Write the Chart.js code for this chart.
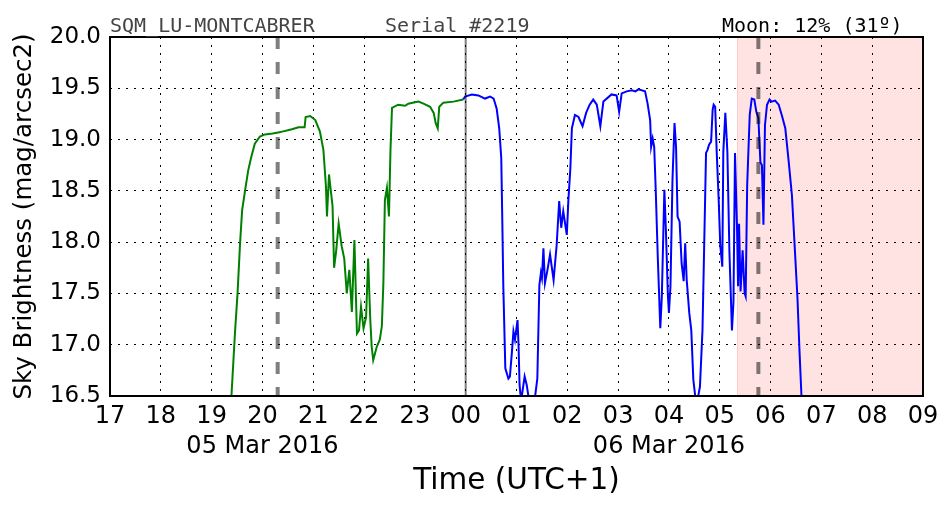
<!DOCTYPE html>
<html>
<head>
<meta charset="utf-8">
<script src="https://cdn.jsdelivr.net/npm/chart.js@4"></script>
<style>
  body { margin: 0; background: #fff; }
  canvas { display: block; }
</style>
</head>
<body>
<canvas id="myChart" width="952" height="512"></canvas>
<script>
// hours counted from 17:00 on 05 Mar 2016
const hourLabels = ['17','18','19','20','21','22','23','00','01','02','03','04','05','06','07','08','09'];
const dateLabels = ['','','','05 Mar 2016','','','','','','','','06 Mar 2016','','','','',''];

const greenTimes = [2.30,2.39,2.46,2.51,2.56,2.60,2.66,2.72,2.78,2.85,2.95,3.05,3.20,3.31,3.41,3.50,3.58,3.71,3.83,3.85,3.94,4.04,4.13,4.20,4.25,4.27,4.31,4.38,4.41,4.45,4.50,4.56,4.61,4.66,4.71,4.76,4.81,4.86,4.90,4.94,4.99,5.04,5.08,5.12,5.15,5.18,5.25,5.31,5.35,5.38,5.41,5.45,5.49,5.52,5.55,5.67,5.81,5.87,6.07,6.17,6.30,6.37,6.41,6.45,6.48,6.56,6.76,6.95];
const greenValues = [15.9,16.5,17.12,17.50,17.99,18.31,18.51,18.70,18.83,18.96,19.03,19.05,19.06,19.07,19.08,19.09,19.10,19.12,19.12,19.22,19.23,19.19,19.08,18.90,18.54,18.25,18.66,18.35,17.75,17.91,18.18,17.96,17.84,17.50,17.73,17.32,18.02,17.11,17.14,17.37,17.16,17.27,17.84,17.27,16.98,16.85,16.98,17.05,17.18,17.60,18.41,18.53,18.25,18.90,19.31,19.34,19.33,19.35,19.37,19.35,19.32,19.26,19.16,19.11,19.32,19.36,19.37,19.39];

const blueTimes = [6.95,6.99,7.12,7.25,7.38,7.48,7.55,7.61,7.66,7.70,7.72,7.74,7.78,7.84,7.87,7.91,7.94,7.97,8.02,8.04,8.06,8.09,8.16,8.20,8.25,8.31,8.37,8.41,8.45,8.48,8.50,8.53,8.56,8.61,8.66,8.73,8.79,8.84,8.88,8.92,8.99,9.02,9.06,9.09,9.15,9.22,9.30,9.37,9.44,9.51,9.58,9.65,9.71,9.87,9.97,10.02,10.07,10.17,10.27,10.34,10.40,10.53,10.58,10.63,10.65,10.68,10.71,10.74,10.78,10.83,10.86,10.91,10.94,10.98,11.00,11.03,11.07,11.11,11.14,11.17,11.21,11.25,11.29,11.32,11.35,11.40,11.44,11.48,11.54,11.61,11.66,11.70,11.73,11.76,11.79,11.83,11.86,11.88,11.91,11.94,11.98,12.01,12.05,12.07,12.11,12.15,12.19,12.24,12.27,12.30,12.34,12.36,12.38,12.41,12.45,12.49,12.51,12.54,12.59,12.63,12.68,12.72,12.76,12.80,12.83,12.86,12.89,12.93,12.98,13.02,13.09,13.16,13.22,13.29,13.35,13.42,13.48,13.53,13.57,13.61,13.68];
const blueValues = [19.39,19.42,19.44,19.43,19.40,19.42,19.40,19.30,19.11,18.82,18.23,17.58,16.77,16.67,16.69,16.93,17.13,17.05,17.24,17.00,16.61,16.45,16.69,16.61,16.45,16.2,16.51,16.67,17.58,17.70,17.65,17.94,17.60,17.73,17.88,17.63,17.97,18.40,18.14,18.30,18.07,18.40,18.72,19.11,19.24,19.22,19.13,19.26,19.34,19.39,19.34,19.13,19.37,19.44,19.43,19.27,19.45,19.47,19.48,19.47,19.49,19.47,19.35,19.19,18.93,19.01,18.93,18.51,17.86,17.16,17.47,18.51,18.12,17.47,17.31,17.57,18.61,19.16,18.93,18.25,18.20,17.79,17.62,17.99,17.63,17.31,17.14,16.66,16.40,16.59,17.14,18.12,18.87,18.90,18.95,18.98,19.29,19.34,19.32,18.88,18.40,17.97,17.76,18.88,19.26,18.88,17.91,17.14,17.42,18.87,18.14,17.57,18.18,17.52,17.92,17.50,17.47,18.56,19.24,19.40,19.39,19.27,19.21,18.78,18.75,18.17,19.14,19.34,19.39,19.37,19.38,19.34,19.24,19.11,18.82,18.46,17.91,17.45,16.93,16.48,16.0];

const dashedMarks = [3.30, 12.76];   // grey dashed verticals
const midnightMark = 7;              // thin solid grey line
const moonSpan = [12.34, 16];        // pink shaded interval

const titleLeft = 'SQM_LU-MONTCABRER';
const titleSerial = 'Serial #2219';
const titleMoon = 'Moon: 12% (31º)';

function toPoints(xs, ys) {
    return xs.map((x, i) => ({ x: x, y: ys[i] }));
}

// Sombreado, lineas verticales, marco y textos de cabecera
const decorPlugin = {
    id: 'decorPlugin',
    beforeDatasetsDraw: (chart) => {
        const ctx = chart.ctx;
        const a = chart.chartArea;
        const xs = chart.scales.x;
        const x0 = xs.getPixelForValue(moonSpan[0]);
        const x1 = xs.getPixelForValue(moonSpan[1]);
        ctx.save();
        ctx.fillStyle = 'rgba(255, 0, 0, 0.11)';
        ctx.fillRect(x0, a.top, x1 - x0, a.bottom - a.top);
        ctx.strokeStyle = 'rgba(255, 0, 0, 0.12)';
        ctx.lineWidth = 1;
        ctx.beginPath();
        ctx.moveTo(x0 + 0.5, a.top);
        ctx.lineTo(x0 + 0.5, a.bottom);
        ctx.stroke();
        ctx.restore();
    },
    afterDatasetsDraw: (chart) => {
        const ctx = chart.ctx;
        const a = chart.chartArea;
        const xs = chart.scales.x;
        ctx.save();
        ctx.strokeStyle = 'rgba(0, 0, 0, 0.5)';
        ctx.lineWidth = 4;
        ctx.setLineDash([12, 13]);
        dashedMarks.forEach((t) => {
            const px = xs.getPixelForValue(t);
            ctx.beginPath();
            ctx.moveTo(px, a.top);
            ctx.lineTo(px, a.bottom);
            ctx.stroke();
        });
        ctx.setLineDash([]);
        ctx.lineWidth = 2;
        const mx = xs.getPixelForValue(midnightMark);
        ctx.beginPath();
        ctx.moveTo(mx, a.top);
        ctx.lineTo(mx, a.bottom);
        ctx.stroke();

        // marco
        ctx.strokeStyle = '#000';
        ctx.lineWidth = 2;
        ctx.strokeRect(a.left, a.top, a.right - a.left, a.bottom - a.top);

        // textos de cabecera
        ctx.font = '20px "DejaVu Sans Mono"';
        ctx.textBaseline = 'alphabetic';
        ctx.textAlign = 'left';
        ctx.fillStyle = '#444';
        ctx.fillText(titleLeft, 110, 32);
        ctx.fillText(titleSerial, 385, 32);
        ctx.fillStyle = '#000';
        ctx.fillText(titleMoon, 722, 32);
        ctx.restore();
    }
};

const ctx = document.getElementById('myChart').getContext('2d');
new Chart(ctx, {
    type: 'line',
    data: {
        datasets: [{
            data: toPoints(greenTimes, greenValues),
            borderColor: '#008000',
            borderWidth: 2,
            pointRadius: 0,
            tension: 0
        }, {
            data: toPoints(blueTimes, blueValues),
            borderColor: '#0000ff',
            borderWidth: 2,
            pointRadius: 0,
            tension: 0
        }]
    },
    options: {
        responsive: false,
        animation: false,
        layout: { padding: { top: 37, right: 29, left: 0, bottom: 0 } },
        plugins: {
            legend: { display: false },
            tooltip: { enabled: false }
        },
        scales: {
            x: {
                type: 'linear',
                min: 0,
                max: 16,
                afterFit: (scale) => { scale.height = 116; },
                ticks: {
                    stepSize: 1,
                    autoSkip: false,
                    maxRotation: 0,
                    color: '#000',
                    padding: 6,
                    font: { family: 'DejaVu Sans', size: 24, lineHeight: 30 / 24 },
                    callback: (v) => {
                        const i = Math.round(v);
                        return dateLabels[i] ? [hourLabels[i], dateLabels[i]] : hourLabels[i];
                    }
                },
                grid: { color: '#000', lineWidth: 1, drawTicks: false },
                border: { display: false, dash: [2, 6] },
                title: {
                    display: true,
                    text: 'Time (UTC+1)',
                    color: '#000',
                    font: { family: 'DejaVu Sans', size: 29.5 },
                    padding: { top: 0, bottom: 13 }
                }
            },
            y: {
                min: 16.5,
                max: 20,
                afterFit: (scale) => { scale.width = 110; },
                ticks: {
                    stepSize: 0.5,
                    color: '#000',
                    padding: 9,
                    font: { family: 'DejaVu Sans', size: 23 },
                    callback: (v) => v.toFixed(1)
                },
                grid: { color: '#000', lineWidth: 1, drawTicks: false },
                border: { display: false, dash: [2, 6] },
                title: {
                    display: true,
                    text: 'Sky Brightness (mag/arcsec2)',
                    color: '#000',
                    font: { family: 'DejaVu Sans', size: 24.5 },
                    padding: { top: 10, bottom: 0 }
                }
            }
        }
    },
    plugins: [decorPlugin]
});
</script>
</body>
</html>
